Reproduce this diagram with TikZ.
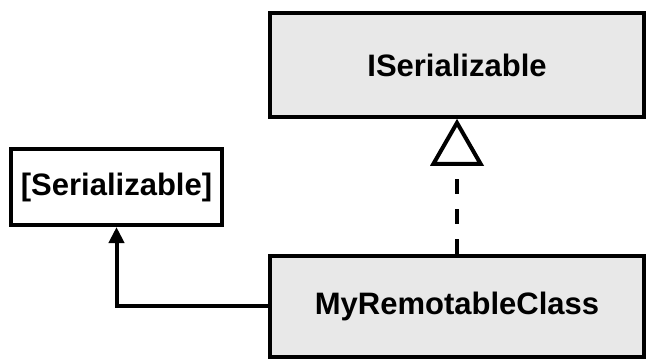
\documentclass[tikz,border=0pt]{standalone}
\usepackage{fontspec}
\setmainfont{Liberation Sans}
\usetikzlibrary{arrows.meta}
\definecolor{boxgray}{RGB}{232,232,232}
\begin{document}
\begin{tikzpicture}[x=1pt,y=-1pt,line width=4pt,
  box/.style={draw,minimum width=374pt,font=\fontsize{31}{37}\selectfont\bfseries,inner sep=0pt},
  ann/.style={draw,minimum width=211pt,minimum height=76pt,font=\fontsize{31}{37}\selectfont\bfseries,inner sep=0pt}]
  \useasboundingbox (0,0) rectangle (646,360);
  \node[box,fill=boxgray,minimum height=103.5pt] (iser) at (457,65) {ISerializable};
  \node[box,fill=boxgray,minimum height=101pt] (myclass) at (457,306) {MyRemotableClass};
  \node[ann,fill=white] (attr) at (116.5,187) {[Serializable]};
  \draw[dash pattern=on 15pt off 15pt,-{Triangle[open,length=47pt,width=53pt]}]
    (myclass.north) -- (iser.south);
  \draw[-{Triangle[length=16pt,width=15pt]}] (myclass.west) -| (attr.south);
\end{tikzpicture}
\end{document}
